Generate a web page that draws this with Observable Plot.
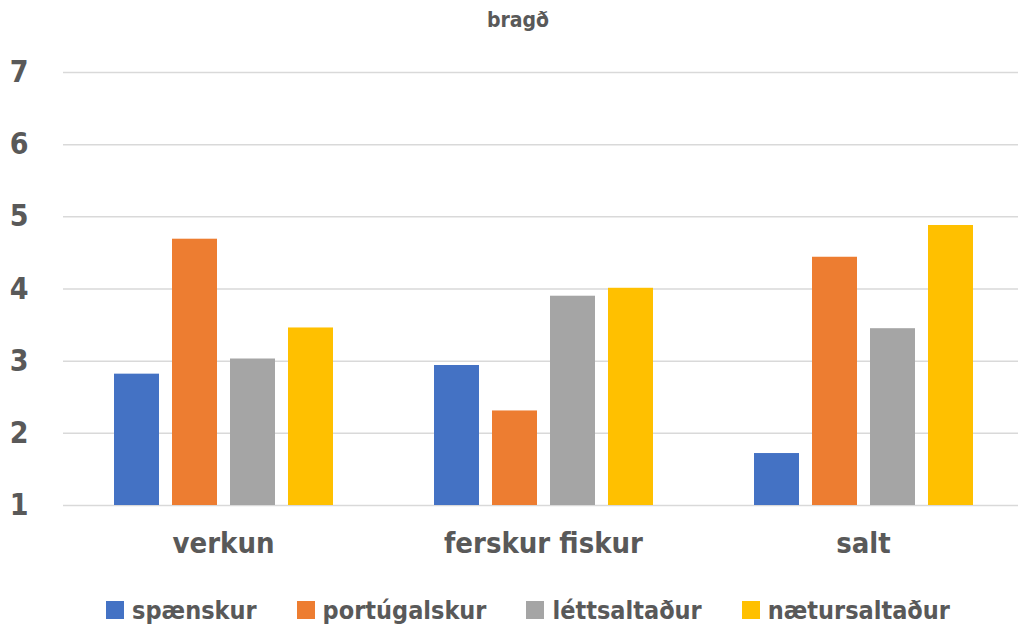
<!DOCTYPE html>
<html>
<head>
<meta charset="utf-8">
<script src="https://cdn.jsdelivr.net/npm/d3@7"></script>
<script src="https://cdn.jsdelivr.net/npm/@observablehq/plot@0.6"></script>
<style>
  html, body { margin: 0; padding: 0; background: #fff; }
  body { width: 1018px; height: 628px; overflow: hidden; font-family: "Liberation Sans Narrow", "DejaVu Sans Condensed", "Open Sans", sans-serif; color: #595959; }
  #title { height: 45px; box-sizing: border-box; padding-top: 8px; text-align: center; font-size: 21px; font-weight: bold; padding-left: 18px; line-height: 25px; }
  #legend { height: 48px; display: flex; justify-content: center; align-items: center; gap: 40px; font-size: 25px; font-weight: bold; padding-left: 38px; box-sizing: border-box; padding-top: 12px; }
  #legend .item { display: flex; align-items: center; gap: 8px; }
  #legend .sw { width: 18px; height: 18px; display: inline-block; }
</style>
</head>
<body>
<div id="title"></div>
<div id="chart"></div>
<div id="legend"></div>
<script>
const title = "bragð";
const categories = ["verkun", "ferskur fiskur", "salt"];
const series = ["spænskur", "portúgalskur", "léttsaltaður", "nætursaltaður"];
const colors = ["#4472C4", "#ED7D31", "#A5A5A5", "#FFC000"];
const spaenskur = [2.82, 2.94, 1.72];
const portugalskur = [4.69, 2.31, 4.44];
const lettsaltadur = [3.03, 3.90, 3.45];
const natursaltadur = [3.46, 4.01, 4.88];
const yTicks = [1, 2, 3, 4, 5, 6, 7];

const valuesBySeries = [spaenskur, portugalskur, lettsaltadur, natursaltadur];
const data = [];
categories.forEach((c, i) => {
  series.forEach((s, j) => {
    data.push({category: c, series: s, value: valuesBySeries[j][i]});
  });
});

document.getElementById("title").textContent = title;

const font = '"Liberation Sans Narrow", "DejaVu Sans Condensed", "Open Sans", sans-serif';

const chart = Plot.plot({
  width: 1018,
  height: 535,
  marginLeft: 62,
  marginRight: -6,
  marginTop: 27,
  marginBottom: 75,
  style: {fontFamily: font, color: "#595959", background: "transparent", overflow: "visible"},
  fx: {domain: categories, padding: 0, label: null},
  x: {domain: series, paddingInner: 0.225, paddingOuter: 0.85},
  y: {domain: [1, 7], label: null},
  color: {domain: series, range: colors},
  marks: [
    Plot.ruleY(yTicks, {stroke: "#d9d9d9", strokeWidth: 1.5}),
    Plot.barY(data, {fx: "category", x: "series", y1: 1, y2: "value", fill: "series"}),
    Plot.axisY({ticks: yTicks, tickFormat: d => String(d), tickSize: 0, tickPadding: 35, fontSize: 30, fontWeight: "bold", fill: "#595959", label: null}),
    Plot.axisX({ticks: [], label: null, tickSize: 0}),
    Plot.axisFx({anchor: "bottom", tickSize: 0, tickPadding: 27, fontSize: 29, fontWeight: "bold", fill: "#595959", label: null})
  ]
});
document.getElementById("chart").appendChild(chart);

const legend = document.getElementById("legend");
series.forEach((s, j) => {
  const item = document.createElement("div");
  item.className = "item";
  const sw = document.createElement("span");
  sw.className = "sw";
  sw.style.background = colors[j];
  const t = document.createElement("span");
  t.textContent = s;
  item.appendChild(sw);
  item.appendChild(t);
  legend.appendChild(item);
});
</script>
</body>
</html>
